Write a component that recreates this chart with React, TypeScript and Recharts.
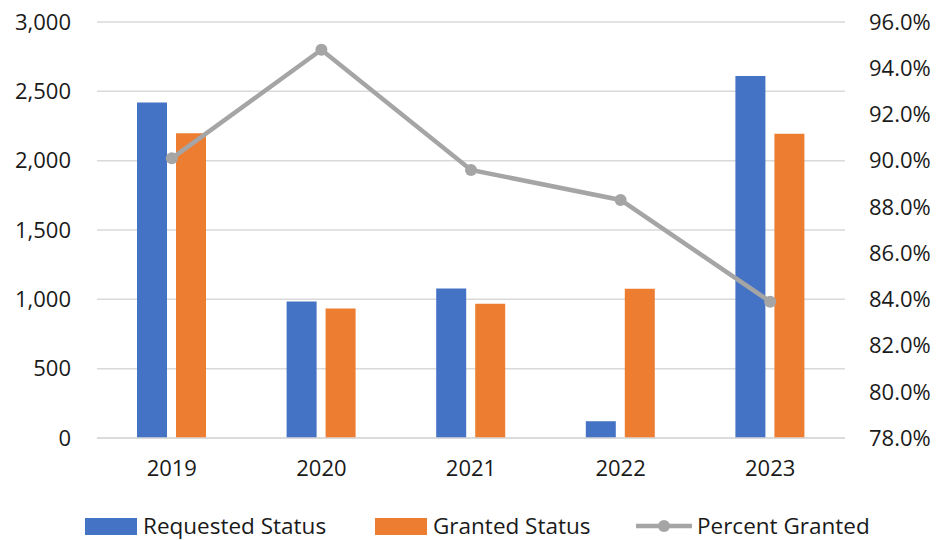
import React from "react";
import { ComposedChart, Bar, Line, XAxis, YAxis, CartesianGrid, Legend } from "recharts";

const years = ["2019", "2020", "2021", "2022", "2023"];
const requestedStatus = [2420, 985, 1078, 121, 2610];
const grantedStatus = [2198, 933, 969, 1077, 2195];
const percentGranted = [0.901, 0.948, 0.896, 0.883, 0.839];

const leftTicks = [0, 500, 1000, 1500, 2000, 2500, 3000];
const rightTicks = [0.78, 0.8, 0.82, 0.84, 0.86, 0.88, 0.9, 0.92, 0.94, 0.96];

const data = years.map((y, i) => ({
  year: y,
  requested: requestedStatus[i],
  granted: grantedStatus[i],
  percent: percentGranted[i],
}));

const FONT = "'Open Sans', sans-serif";
const TEXT = "#1a1a1a";
const BLUE = "#4472C4";
const ORANGE = "#ED7D31";
const GRAY = "#A5A5A5";

const itemStyle: React.CSSProperties = {
  position: "absolute",
  top: 37,
  height: 22,
  display: "flex",
  alignItems: "center",
  whiteSpace: "nowrap",
  lineHeight: "22px",
};

const LegendContent = () => (
  <div
    style={{
      height: 62,
      width: 941,
      fontFamily: FONT,
      fontSize: 22.5,
      color: TEXT,
      position: "relative",
    }}
  >
    <div style={{ ...itemStyle, left: 85 }}>
      <div style={{ width: 52, height: 17, background: BLUE, marginRight: 6 }} />
      <span>Requested Status</span>
    </div>
    <div style={{ ...itemStyle, left: 375 }}>
      <div style={{ width: 52, height: 17, background: ORANGE, marginRight: 6 }} />
      <span>Granted Status</span>
    </div>
    <div style={{ ...itemStyle, left: 636 }}>
      <svg width={56} height={20} style={{ marginRight: 5 }}>
        <line x1={0} y1={10} x2={56} y2={10} stroke={GRAY} strokeWidth={4.5} />
        <circle cx={28} cy={10} r={6} fill={GRAY} />
      </svg>
      <span>Percent Granted</span>
    </div>
  </div>
);

export default function App() {
  return (
    <div style={{ position: "absolute", left: 0, top: 0, background: "#fff" }}>
      <ComposedChart
        width={941}
        height={540}
        data={data}
        margin={{ top: 22, right: 0, left: 0, bottom: 0 }}
        barSize={30}
        barGap={9}
      >
        <CartesianGrid vertical={false} stroke="#D9D9D9" strokeWidth={1.5} yAxisId="left" />
        <XAxis
          dataKey="year"
          axisLine={{ stroke: "#D9D9D9", strokeWidth: 1.5 }}
          tickLine={false}
          tickSize={0}
          tickMargin={22}
          height={40}
          tick={{ fill: TEXT, fontSize: 22, fontFamily: FONT }}
        />
        <YAxis
          yAxisId="left"
          orientation="left"
          width={97}
          domain={[0, 3000]}
          ticks={leftTicks}
          interval={0}
          axisLine={false}
          tickLine={false}
          tickSize={0}
          tickMargin={26}
          tickFormatter={(v: number) => v.toLocaleString("en-US")}
          tick={{ fill: TEXT, fontSize: 22, fontFamily: FONT }}
        />
        <YAxis
          yAxisId="right"
          orientation="right"
          width={96}
          domain={[0.78, 0.96]}
          ticks={rightTicks}
          interval={0}
          axisLine={false}
          tickLine={false}
          tickSize={0}
          tickMargin={24}
          tickFormatter={(v: number) => (v * 100).toFixed(1) + "%"}
          tick={{ fill: TEXT, fontSize: 22, fontFamily: FONT, textAnchor: "start" }}
        />
        <Bar yAxisId="left" dataKey="requested" fill={BLUE} isAnimationActive={false} />
        <Bar yAxisId="left" dataKey="granted" fill={ORANGE} isAnimationActive={false} />
        <Line
          yAxisId="right"
          dataKey="percent"
          stroke={GRAY}
          strokeWidth={4.5}
          dot={{ r: 6, fill: GRAY, stroke: GRAY, strokeWidth: 0 }}
          activeDot={false}
          isAnimationActive={false}
        />
        <Legend verticalAlign="bottom" height={62} content={<LegendContent />} wrapperStyle={{ left: 0, width: 941 }} />
      </ComposedChart>
    </div>
  );
}
